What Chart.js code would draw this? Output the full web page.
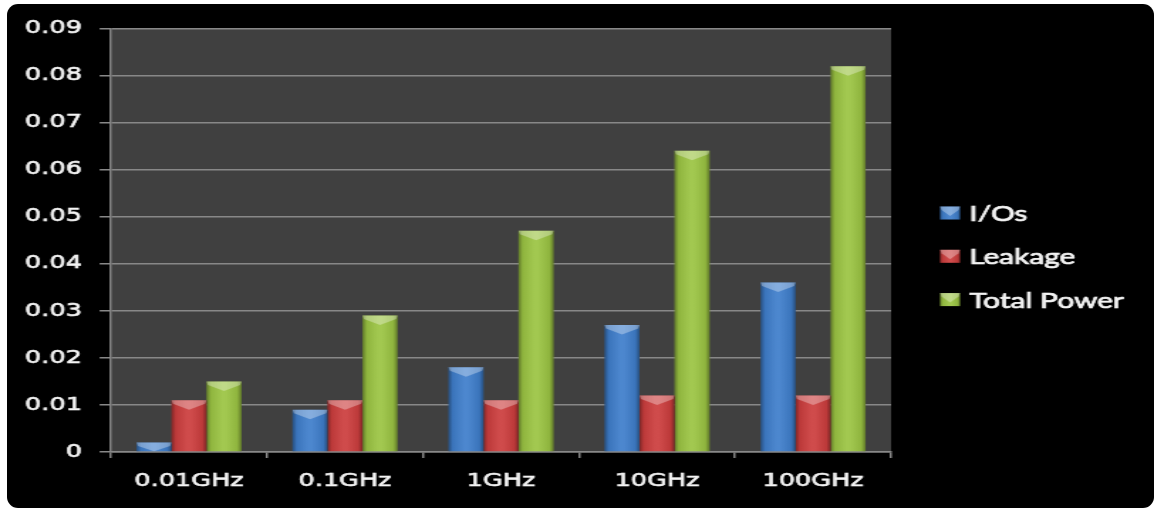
<!DOCTYPE html>
<html>
<head>
<meta charset="utf-8">
<script src="https://cdn.jsdelivr.net/npm/chart.js@4.4.1/dist/chart.umd.min.js"></script>
<style>
  html, body { margin: 0; padding: 0; background: #ffffff; width: 1154px; height: 508px; overflow: hidden; }
  #panel { position: absolute; left: 7px; top: 4px; width: 1147px; height: 504px; background: #000000; border-radius: 11px; }
  #chart { position: absolute; left: 0; top: 0; }
</style>
</head>
<body>
<div id="panel"></div>
<!-- drawn at 812px wide and shown at 1154px, giving the wide lettering of the slide -->
<canvas id="chart" width="812" height="508" style="width:1154px;height:508px"></canvas>
<script>
// Power (W) per operating frequency
const categories   = ['0.01GHz', '0.1GHz', '1GHz', '10GHz', '100GHz'];
const ioPower      = [0.002, 0.009, 0.018, 0.027, 0.036];
const leakagePower = [0.011, 0.011, 0.011, 0.012, 0.012];
const totalPower   = [0.015, 0.029, 0.047, 0.064, 0.082];
const seriesNames  = ['I/Os', 'Leakage', 'Total Power'];
const yTickLabels  = ['0', '0.01', '0.02', '0.03', '0.04', '0.05', '0.06', '0.07', '0.08', '0.09'];

const seriesColors = ['#3f7ecb', '#cc3e3e', '#9bc443'];
const gridGray = '#888888';
const textColor = '#f4f4f4';

// dark grey plot area behind the bars
const plotBackground = {
  id: 'plotBackground',
  beforeDraw(chart) {
    const { ctx, chartArea: a } = chart;
    ctx.save();
    ctx.fillStyle = '#404040';
    ctx.fillRect(a.left, a.top, a.right - a.left, a.bottom - a.top);
    ctx.restore();
  }
};

// bevelled look: darker sides and a light chevron on top of each bar
function bevel(ctx, left, top, width, height) {
  const right = left + width, cx = left + width / 2;
  const g = ctx.createLinearGradient(left, 0, right, 0);
  g.addColorStop(0, 'rgba(0,0,0,0.38)');
  g.addColorStop(0.12, 'rgba(0,0,0,0.08)');
  g.addColorStop(0.45, 'rgba(255,255,255,0.07)');
  g.addColorStop(0.55, 'rgba(255,255,255,0.07)');
  g.addColorStop(0.88, 'rgba(0,0,0,0.08)');
  g.addColorStop(1, 'rgba(0,0,0,0.38)');
  ctx.fillStyle = g;
  ctx.fillRect(left, top, width, height);
  const edge = Math.min(height, 3.5), mid = Math.min(height, 9.5);
  ctx.beginPath();
  ctx.moveTo(left, top);
  ctx.lineTo(right, top);
  ctx.lineTo(right - 1, top + edge);
  ctx.lineTo(cx, top + mid);
  ctx.lineTo(left + 1, top + edge);
  ctx.closePath();
  ctx.fillStyle = 'rgba(255,255,255,0.32)';
  ctx.fill();
}

const barBevel = {
  id: 'barBevel',
  afterDatasetsDraw(chart) {
    const { ctx } = chart;
    ctx.save();
    chart.data.datasets.forEach((ds, i) => {
      chart.getDatasetMeta(i).data.forEach(el => {
        const { x, y, base, width } = el.getProps(['x', 'y', 'base', 'width'], true);
        const top = Math.min(y, base), h = Math.abs(base - y);
        bevel(ctx, x - width / 2, top, width, h);
      });
    });
    ctx.restore();
  }
};

// legend column to the right of the plot
const sideLegend = {
  id: 'sideLegend',
  afterDraw(chart) {
    const { ctx, chartArea: a } = chart;
    const boxX = a.right + 34.5, boxW = 14, boxH = 13;
    const textX = boxX + 20.5;
    const step = 43.3, midY = chart.height / 2 + 2.3;
    const n = chart.data.datasets.length;
    ctx.save();
    ctx.font = '21px Lato, "Open Sans", sans-serif';
    ctx.textAlign = 'left';
    ctx.textBaseline = 'alphabetic';
    ctx.lineWidth = 0.7;
    ctx.strokeStyle = textColor;
    chart.data.datasets.forEach((ds, i) => {
      const cy = midY + (i - (n - 1) / 2) * step;
      ctx.fillStyle = ds.backgroundColor;
      ctx.fillRect(boxX, cy - boxH / 2, boxW, boxH);
      bevel(ctx, boxX, cy - boxH / 2, boxW, boxH);
      ctx.fillStyle = textColor;
      ctx.fillText(ds.label, textX, cy + 8);
      ctx.strokeText(ds.label, textX, cy + 8);
    });
    ctx.restore();
  }
};

const tickFont = { family: '"DejaVu Sans", Verdana, sans-serif', size: 18 };

new Chart(document.getElementById('chart'), {
  type: 'bar',
  data: {
    labels: categories,
    datasets: [ioPower, leakagePower, totalPower].map((values, i) => ({
      label: seriesNames[i],
      data: values,
      backgroundColor: seriesColors[i],
      borderWidth: 0,
      categoryPercentage: 0.673,
      barPercentage: 1.0
    }))
  },
  options: {
    responsive: false,
    devicePixelRatio: 1,
    animation: false,
    layout: { padding: { left: 0, right: 185, top: 28.5, bottom: 0 } },
    plugins: { legend: { display: false }, tooltip: { enabled: false } },
    scales: {
      x: {
        grid: { display: true, drawOnChartArea: false, drawTicks: true, tickLength: 6, color: gridGray, lineWidth: 1.5, offset: true },
        border: { display: true, color: gridGray, width: 1.5 },
        ticks: { color: textColor, padding: 13, font: tickFont, textStrokeColor: textColor, textStrokeWidth: 0.6 },
        afterFit(scale) { scale.height = 56; }
      },
      y: {
        min: 0,
        max: 0.09,
        grid: { color: gridGray, lineWidth: 1.5, drawTicks: true, tickLength: 8 },
        border: { display: true, color: gridGray, width: 1.5 },
        ticks: {
          stepSize: 0.01,
          color: textColor,
          padding: 12.4,
          font: tickFont,
          textStrokeColor: textColor,
          textStrokeWidth: 0.6,
          callback: (value, index) => yTickLabels[index]
        },
        afterFit(scale) { scale.width = 78.1; }
      }
    }
  },
  plugins: [plotBackground, barBevel, sideLegend]
});
</script>
</body>
</html>
